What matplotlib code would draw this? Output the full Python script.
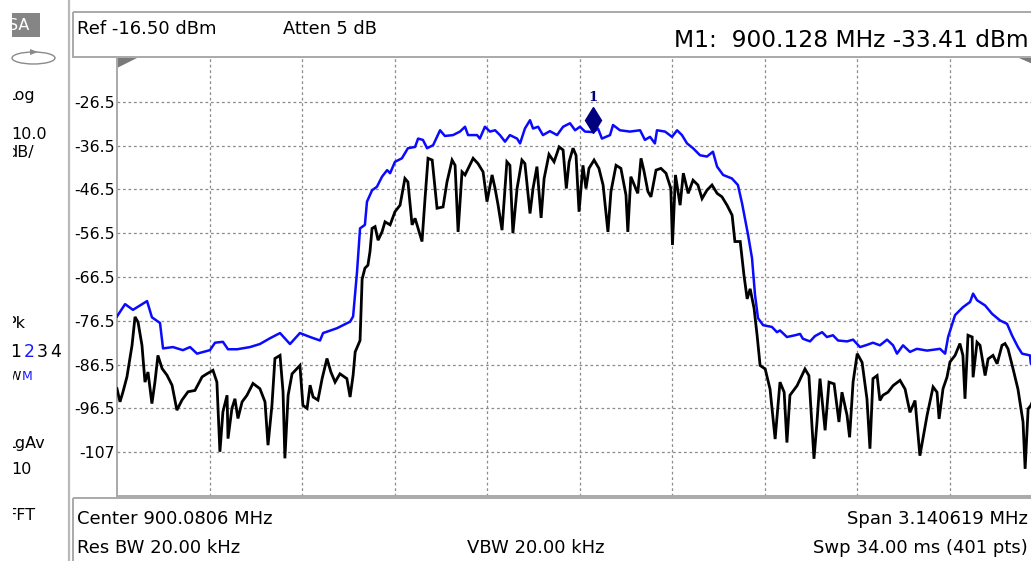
import matplotlib
matplotlib.use("Agg")
import matplotlib.pyplot as plt
from matplotlib.patches import Rectangle, Ellipse, Polygon
import matplotlib.transforms as mtransforms

# ---------------- data ----------------
center_mhz = 900.0806
span_mhz = 3.140619
n_points = 401
ref_level = -16.50
db_per_div = 10.0

y_tick_values = [-26.5, -36.5, -46.5, -56.5, -66.5, -76.5, -86.5, -96.5, -106.5]
y_tick_labels = ["-26.5", "-36.5", "-46.5", "-56.5", "-66.5", "-76.5", "-86.5", "-96.5", "-107"]

marker_freq_mhz = 900.128
marker_level = -33.41

# trace 2 (max hold, blue): sweep point index, level dBm
blue_idx = [0, 3.5, 6.9, 13, 15.1, 18.6, 19.9, 24.2, 28.5, 31.6, 34.6, 40.2, 42.4, 45.8, 48,
            51.9, 57.5, 61.8, 66.1, 70.5, 74.8, 79.1, 83.5, 87.8, 89.1, 95.1, 100.8, 102.1,
            102.9, 103.8, 105.1, 107.2, 108.1, 110.3, 112.4, 114.6, 116.8, 118.1, 120.2, 123.2,
            125.8, 128.9, 130.2, 132.3, 134.1, 136.7, 139.7, 141.8, 145.3, 148.3, 150.5, 151.8,
            155.7, 156.9, 159.1, 161.3, 163.5, 165.6, 167.8, 169.9, 173, 174.3, 176.4, 178.6,
            179.9, 182.1, 184.2, 187.2, 190.3, 192.9, 195.9, 198.1, 200.2, 202.4, 206, 208,
            209.7, 213.2, 214.5, 217.5, 221.8, 226.2, 228.3, 230.5, 232.6, 233.5, 237, 240,
            242.2, 244.3, 246.5, 249.1, 252.1, 255.1, 257.7, 259.5, 262.1, 265.9, 268.5, 270.3,
            272.9, 274.6, 275.9, 277.2, 279.4, 283.2, 285.4, 286.7, 289.7, 293.2, 295.4, 296.6,
            299.7, 301.8, 304.9, 307, 309.6, 311.8, 315.7, 318.3, 321.3, 324.3, 326.9, 329.9,
            333, 335.6, 337.3, 339.9, 342.9, 345.9, 350.3, 355.9, 358.1, 359.4, 362.4, 365.8,
            368.9, 370.2, 371.9, 375.4, 378.4, 381.8, 384.9, 387, 389.6, 391.4, 394.8, 395.2,
            398, 400]
blue_db = [-75.5, -72.7, -74, -72, -75.7, -77, -82.8, -82.5, -83.2, -82.5, -84, -83.2, -81.5,
           -81.3, -83, -83, -82.5, -81.8, -80.5, -79.3, -81.8, -79.3, -80.2, -81, -79.3, -78.2,
           -76.7, -75.5, -70.6, -65.3, -55.4, -54.6, -49.3, -46.7, -45.9, -43.6, -42.1, -42.8,
           -40.2, -39.4, -37.1, -36.8, -34.9, -35.2, -37.1, -36.4, -33, -34.3, -34.1, -33.3,
           -32.2, -34.1, -34.1, -34.9, -32.2, -33.3, -33, -34.1, -35.6, -34.1, -34.9, -36,
           -32.6, -30.7, -32.6, -32.2, -34.1, -33.2, -34.1, -32.2, -31.4, -33, -32.2, -33.3,
           -33.41, -32.6, -34.9, -34.1, -31.8, -33, -33.3, -33, -35.2, -34.5, -36, -33, -33.3,
           -34.5, -33, -34.1, -36, -37.1, -38.7, -39, -37.9, -41.3, -43.2, -44, -45.5, -49.7,
           -56.9, -62.2, -70.6, -75.9, -77.5, -77.9, -79.1, -78.7, -80.2, -79.8, -79.5, -80.6,
           -81.2, -80, -79.1, -80.2, -79.8, -81, -81.2, -80.8, -82.5, -82, -81.5, -82.1, -80.8,
           -82.1, -84, -82.1, -83.6, -82.9, -83.3, -82.9, -84, -80.2, -75.2, -73.4, -72.2,
           -70.3, -71.8, -73, -74.9, -76.4, -77.2, -79.8, -82.5, -84, -84.4, -86.3, -87, -87.5]

# trace 1 (clear write, black): sweep point index, level dBm
black_idx = [0, 1.3, 2.6, 4.3, 6.5, 7.8, 9.1, 10.8, 12.1, 13.4, 15.1, 16.4, 17.7, 19.5, 21.6,
             23.8, 25.9, 28.1, 30.7, 33.7, 36.8, 38.9, 41.5, 43.2, 44.5, 45.8, 47.6, 48, 49.7,
             51, 52.3, 54.1, 56.2, 58.8, 61.8, 64, 65.3, 67, 68.3, 70.5, 71.8, 72.6, 74, 75.7,
             79.1, 80.4, 82.2, 83.5, 84.8, 86.9, 88.7, 90.8, 92.5, 94.3, 96.4, 99.4, 100.8,
             102.1, 103, 105.1, 106, 107.2, 108.5, 109.4, 110.3, 111.6, 112.9, 114.6, 115.9,
             118.1, 120.2, 122.4, 124.5, 125.8, 127.6, 128.9, 131.9, 133.2, 134.5, 136.3, 138.4,
             141, 142.7, 144.9, 146.2, 147.5, 149.2, 150.5, 154, 156.1, 158.3, 160, 162.2, 163.5,
             164.8, 166.5, 168.6, 169.9, 171.2, 173, 175.1, 176.4, 178.6, 179.9, 181.6, 183.4,
             184.7, 186.8, 189, 191.2, 192.9, 194.3, 195.5, 197.2, 198.5, 199.8, 201.5, 202.8,
             204.1, 206.3, 208.4, 210.2, 212.3, 213.6, 215.8, 217.9, 220.1, 220.9, 222.2, 225.2,
             226.6, 227.8, 229.6, 230.9, 233.1, 235.2, 237.4, 239.5, 240.2, 241.5, 243.5, 244.9,
             247, 249.1, 251.2, 253, 255.1, 257.3, 259.5, 261.6, 263.8, 266, 267.2, 269.5, 271.1,
             272.5, 273.8, 275.5, 276.8, 278.1, 280.3, 282.4, 284.6, 286.7, 288.5, 289.7, 291,
             294.1, 297.5, 299.2, 301.4, 302.7, 304, 306.2, 307.9, 310.1, 312.2, 313.5, 315.7,
             316.8, 318.3, 320.1, 322.2, 324.3, 325.6, 326.9, 328.7, 329.9, 331.2, 333.4, 335.6,
             338.6, 340.8, 342.9, 345.1, 347.2, 350.3, 352.9, 354.6, 355.5, 357.2, 358.9, 360.2,
             362.4, 364.5, 365.8, 366.7, 368, 369.8, 370.2, 371.9, 373.2, 375.4, 376.7, 378.8,
             380.6, 382.7, 384, 385.3, 387.5, 389.6, 391.8, 392.7, 394, 395.2, 398, 400]
black_db = [-92, -95, -92.7, -89.3, -82.1, -75.6, -76.8, -82.1, -90.5, -88.2, -95.4, -90.5,
            -84.4, -87.4, -88.9, -91.2, -96.9, -94.6, -92.7, -92.4, -89.3, -88.6, -87.8, -90.5,
            -106.4, -97.3, -93.5, -103.4, -96.5, -94.3, -98.8, -95, -93.5, -90.8, -92, -95,
            -104.9, -95.8, -85.1, -84.4, -92.7, -107.9, -93.5, -88.6, -86.7, -95.8, -96.5,
            -91.2, -93.9, -94.6, -89.7, -85.1, -88.2, -90.5, -88.6, -89.7, -93.9, -88.9, -83.6,
            -81, -67, -64.5, -63.8, -60.7, -55.4, -55, -58.1, -56.2, -53.9, -54.6, -51.6, -50.1,
            -44, -44.8, -54.6, -53.1, -58.4, -48.6, -39.4, -39.8, -50.8, -50.5, -44.8, -39.8,
            -41, -56.2, -42.5, -43.2, -39.4, -40.6, -42.5, -49.3, -43.2, -46.3, -50.1, -55.8,
            -40.2, -41, -56.5, -46.3, -39.8, -40.6, -52, -46.3, -41.3, -53, -44, -38.5, -40.2,
            -36.8, -37.5, -46.3, -40.2, -37.1, -38.7, -51.6, -41, -46.3, -41.7, -39.8, -41.7,
            -45.5, -56.2, -47, -41, -41.7, -47.8, -56.2, -43.6, -47.4, -39.4, -42.1, -47, -48.2,
            -42.1, -41.7, -42.8, -46.3, -59.2, -43.2, -50.1, -42.8, -47.4, -44.4, -45.5, -48.6,
            -46.7, -45.5, -47.4, -48.2, -50.1, -52.4, -58.4, -58.4, -66, -71.5, -69.2, -73.7,
            -79.8, -86.7, -87.5, -92.1, -103.5, -90.5, -92.8, -104.3, -93.5, -91.3, -87.5, -89,
            -108, -99.6, -89.7, -101.5, -90.5, -90.9, -99.6, -92.8, -98.1, -103.1, -90.5, -84,
            -86, -94.3, -105.7, -89.7, -89, -94.7, -93.5, -92.8, -91.3, -90.1, -92.1, -97.4,
            -94.7, -107.3, -98.1, -91.6, -92.8, -98.9, -92, -89.4, -85.9, -84.4, -81.7, -84.4,
            -94.3, -79.8, -80.2, -89.4, -81.4, -82.1, -89, -85.2, -84.4, -86.3, -82.1, -81.7,
            -82.9, -87.5, -92.1, -99.6, -110.3, -96.6, -95.8, -92, -90]

# ---------------- figure ----------------
W, H = 1031, 561
fig = plt.figure(figsize=(W / 100, H / 100), dpi=100)
fig.patch.set_facecolor("white")

bg = fig.add_axes([0, 0, 1, 1])
bg.set_xlim(0, W)
bg.set_ylim(H, 0)
bg.axis("off")

FONT = "DejaVu Sans"
frame_gray = "#a9a9a9"

# panel separator and boxes
bg.plot([69, 69], [0, H], color="#b8b8b8", lw=1.6, solid_capstyle="butt")
bg.add_patch(Rectangle((73, 12), 1100, 45, fill=False, edgecolor=frame_gray, lw=1.4))
bg.add_patch(Rectangle((73, 498), 1100, 100, fill=False, edgecolor=frame_gray, lw=1.4))

# header texts
bg.text(77, 29, "Ref -16.50 dBm", fontsize=13, family=FONT, va="center", ha="left")
bg.text(283, 29, "Atten 5 dB", fontsize=12.8, family=FONT, va="center", ha="left")
bg.text(1029, 40, "M1:  900.128 MHz -33.41 dBm", fontsize=16.8, family=FONT,
        va="center", ha="right")

# footer texts
FS_FOOT = 13
bg.text(77, 519, "Center 900.0806 MHz", fontsize=FS_FOOT, family=FONT, va="center", ha="left")
bg.text(1028, 519, "Span 3.140619 MHz", fontsize=FS_FOOT, family=FONT, va="center", ha="right")
bg.text(77, 548, "Res BW 20.00 kHz", fontsize=FS_FOOT, family=FONT, va="center", ha="left")
bg.text(467, 548, "VBW 20.00 kHz", fontsize=FS_FOOT, family=FONT, va="center", ha="left")
bg.text(1028, 548, "Swp 34.00 ms (401 pts)", fontsize=FS_FOOT, family=FONT, va="center",
        ha="right")

# left panel (clipped at x=12)
clipbox = mtransforms.TransformedBbox(mtransforms.Bbox([[12.5, 0], [68, H]]), bg.transData)


def clipped(tt):
    tt.set_clip_box(clipbox)
    tt.set_clip_on(True)
    return tt


sa_box = Rectangle((12, 13), 28, 24, facecolor="#858585", edgecolor="none")
bg.add_patch(sa_box)
sa_clip = mtransforms.TransformedBbox(mtransforms.Bbox([[12, 13], [40, 37]]), bg.transData)
t = bg.text(8, 25, "SA", fontsize=11.5, family=FONT, color="white", va="center", ha="left")
t.set_clip_box(sa_clip)
t.set_clip_on(True)
bg.add_patch(Ellipse((33.5, 58), 43, 12, fill=False, edgecolor="#8a8a8a", lw=1.0))
bg.add_patch(Polygon([[30, 49], [38, 52], [30, 55]], closed=True, facecolor="#8a8a8a",
                     edgecolor="none"))

left_items = [
    (6, 95, "Log", "black", 11.5),
    (11, 134, "10.0", "black", 11.5),
    (7, 152, "dB/", "black", 11.5),
    (6, 323, "Pk", "black", 11.5),
    (6, 443, "LgAv", "black", 11.5),
    (11, 469, "10", "black", 11.5),
    (7, 516, "FFT", "black", 11.5),
]
for x, y, s, c, fs in left_items:
    clipped(bg.text(x, y, s, fontsize=fs, family=FONT, color=c, va="center", ha="left"))

trace_digits = ["1", "2", "3", "4"]
trace_colors = ["black", "#1a1aff", "black", "black"]
for k, (d, c) in enumerate(zip(trace_digits, trace_colors)):
    bg.text(10 + 13.3 * k, 352, d, fontsize=12.5, family=FONT, color=c, va="center", ha="left")
clipped(bg.text(9, 376, "W", fontsize=9, family=FONT, color="black", va="center", ha="left"))
bg.text(22, 376, "M", fontsize=9, family=FONT, color="#1a1aff", va="center", ha="left")

# ---------------- spectrum axes ----------------
left_px, right_px, top_px, bot_px = 117, 1042, 58, 496
ax = fig.add_axes([left_px / W, (H - bot_px) / H, (right_px - left_px) / W,
                   (bot_px - top_px) / H])
ax.set_facecolor("none")
ax.set_xlim(0, n_points - 1)
ax.set_ylim(ref_level - 10 * db_per_div, ref_level)

ax.set_yticks(y_tick_values)
ax.set_yticklabels(y_tick_labels, family=FONT, fontsize=11.3)
ax.set_xticks([40 * k for k in range(1, 10)])
ax.tick_params(axis="both", length=0, pad=1.5)
ax.tick_params(axis="x", labelbottom=False)
ax.grid(True, color="#8c8c8c", linestyle=(0, (2.2, 2.2)), lw=0.9)
ax.set_axisbelow(True)
for side in ["top", "right"]:
    ax.spines[side].set_visible(False)
for side in ["left", "bottom"]:
    ax.spines[side].set_color(frame_gray)
    ax.spines[side].set_linewidth(1.4)

ax.plot(black_idx, black_db, color="black", lw=2.0, solid_joinstyle="miter", zorder=3)
ax.plot(blue_idx, blue_db, color="#0a0aff", lw=1.8, zorder=4)

# marker 1
start_mhz = center_mhz - span_mhz / 2
marker_idx = (marker_freq_mhz - start_mhz) / span_mhz * (n_points - 1)
mk_tr = mtransforms.offset_copy(ax.transData, fig=fig, x=0, y=12, units="dots")
ax.plot([marker_idx], [marker_level], marker="d", markersize=13, color="#00007f",
        transform=mk_tr, zorder=5, clip_on=False)
lbl_tr = mtransforms.offset_copy(ax.transData, fig=fig, x=0, y=35, units="dots")
ax.text(marker_idx, marker_level, "1", transform=lbl_tr, fontsize=9.5, family="DejaVu Serif",
        fontweight="bold", color="#00007f", ha="center", va="center")

# corner triangles
bg.add_patch(Polygon([[117, 58], [137, 58], [117, 68]], closed=True, facecolor="#7a7a7a",
                     edgecolor="none", zorder=6))
bg.add_patch(Polygon([[1019, 58], [1042, 58], [1042, 68]], closed=True, facecolor="#7a7a7a",
                     edgecolor="none", zorder=6))

fig.savefig("out.png", dpi=100)
